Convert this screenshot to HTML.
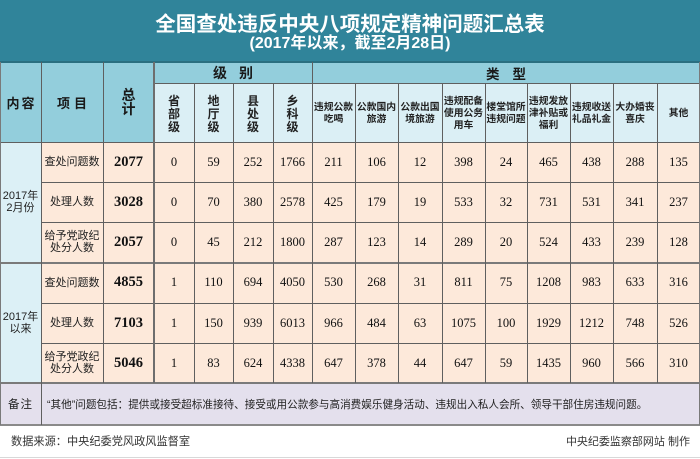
<!DOCTYPE html>
<html><head><meta charset="utf-8">
<style>
*{margin:0;padding:0;box-sizing:border-box}
body{width:700px;height:459px;position:relative;background:#fff;overflow:hidden;font-family:"Liberation Sans","Noto Sans CJK SC",sans-serif;color:#222}
.b{position:absolute}
.c{position:absolute;display:flex;align-items:center;justify-content:center;text-align:center}
.v{position:absolute;width:1px;background:#5f5f5f}
.h{position:absolute;height:1px;background:#5f5f5f}
.n{font-family:"Liberation Serif","Noto Serif CJK SC",serif;font-size:12.5px;color:#111}
.t{font-family:"Liberation Serif","Noto Serif CJK SC",serif;font-size:14.5px;font-weight:bold;color:#111}
.it{font-size:11px;line-height:12px;color:#222}
.hd{font-weight:bold;color:#1a1a1a}
.vt{font-size:12px;line-height:13px;font-weight:bold;color:#222}
.ty{font-size:9.8px;line-height:12px;font-weight:bold;color:#222;padding-top:2px;white-space:nowrap}
</style></head>
<body>
<!-- title band -->
<div class="b" style="left:0;top:0;width:700px;height:62px;background:#30849a"></div>
<div class="c" style="left:0;top:10px;width:700px;height:24px;color:#fff;font-size:20.5px;font-weight:bold;font-family:'Liberation Sans','Noto Sans CJK SC',sans-serif">全国查处违反中央八项规定精神问题汇总表</div>
<div class="c" style="left:0;top:32px;width:700px;height:18px;color:#fff;font-size:16px;font-weight:bold;font-family:'Liberation Sans','Noto Sans CJK SC',sans-serif">(2017年以来，截至2月28日)</div>

<!-- header backgrounds -->
<div class="b" style="left:0;top:62px;width:154px;height:80px;background:#93cedc"></div>
<div class="b" style="left:154px;top:62px;width:546px;height:21px;background:#93cedc"></div>
<div class="b" style="left:154px;top:83px;width:546px;height:59px;background:#dbeff5"></div>

<!-- body backgrounds -->
<div class="b" style="left:0;top:142px;width:41px;height:241px;background:#dcf0f6"></div>
<div class="b" style="left:41px;top:142px;width:659px;height:241px;background:#fde9da"></div>
<div class="b" style="left:0;top:383px;width:700px;height:42px;background:#e4e0ed"></div>

<!-- header text -->
<div class="c hd" style="left:0;top:62px;width:41px;height:80px;font-size:13px;letter-spacing:2px;padding-left:2px">内容</div>
<div class="c hd" style="left:41px;top:62px;width:62px;height:80px;font-size:13px;letter-spacing:4px;padding-left:4px">项目</div>
<div class="c hd" style="left:103px;top:62px;width:51px;height:80px;font-size:14px;line-height:14px">总<br>计</div>
<div class="c hd" style="left:154px;top:62px;width:158px;height:21px;font-size:14px;letter-spacing:12px;padding-left:12px">级别</div>
<div class="c hd" style="left:312px;top:62px;width:388px;height:21px;font-size:13.5px;letter-spacing:13px;padding-left:13px">类型</div>

<div class="c vt" style="left:154px;top:83px;width:40px;height:59px;padding-top:4px">省<br>部<br>级</div>
<div class="c vt" style="left:194px;top:83px;width:39px;height:59px;padding-top:4px">地<br>厅<br>级</div>
<div class="c vt" style="left:233px;top:83px;width:40px;height:59px;padding-top:4px">县<br>处<br>级</div>
<div class="c vt" style="left:273px;top:83px;width:39px;height:59px;padding-top:4px">乡<br>科<br>级</div>

<div class="c ty" style="left:312px;top:83px;width:43px;height:59px">违规公款<br>吃喝</div>
<div class="c ty" style="left:355px;top:83px;width:43px;height:59px">公款国内<br>旅游</div>
<div class="c ty" style="left:398px;top:83px;width:44px;height:59px">公款出国<br>境旅游</div>
<div class="c ty" style="left:442px;top:83px;width:43px;height:59px">违规配备<br>使用公务<br>用车</div>
<div class="c ty" style="left:485px;top:83px;width:42px;height:59px">楼堂馆所<br>违规问题</div>
<div class="c ty" style="left:527px;top:83px;width:43px;height:59px">违规发放<br>津补贴或<br>福利</div>
<div class="c ty" style="left:570px;top:83px;width:43px;height:59px">违规收送<br>礼品礼金</div>
<div class="c ty" style="left:613px;top:83px;width:44px;height:59px">大办婚丧<br>喜庆</div>
<div class="c ty" style="left:657px;top:83px;width:43px;height:59px">其他</div>

<!-- first col -->
<div class="c" style="left:0;top:142px;width:41px;height:120px;font-size:11px;line-height:12px;color:#222">2017年<br>2月份</div>
<div class="c" style="left:0;top:262px;width:41px;height:121px;font-size:11px;line-height:12px;color:#222">2017年<br>以来</div>

<!-- item col -->
<div class="c it" style="left:41px;top:142px;width:62px;height:40px">查处问题数</div>
<div class="c it" style="left:41px;top:182px;width:62px;height:40px">处理人数</div>
<div class="c it" style="left:41px;top:222px;width:62px;height:40px">给予党政纪<br>处分人数</div>
<div class="c it" style="left:41px;top:262px;width:62px;height:41px">查处问题数</div>
<div class="c it" style="left:41px;top:303px;width:62px;height:40px">处理人数</div>
<div class="c it" style="left:41px;top:343px;width:62px;height:40px">给予党政纪<br>处分人数</div>

<!-- totals -->
<div class="c t" style="left:103px;top:142px;width:51px;height:40px">2077</div>
<div class="c t" style="left:103px;top:182px;width:51px;height:40px">3028</div>
<div class="c t" style="left:103px;top:222px;width:51px;height:40px">2057</div>
<div class="c t" style="left:103px;top:262px;width:51px;height:41px">4855</div>
<div class="c t" style="left:103px;top:303px;width:51px;height:40px">7103</div>
<div class="c t" style="left:103px;top:343px;width:51px;height:40px">5046</div>

<!-- row 1 -->
<div class="c n" style="left:154px;top:142px;width:40px;height:40px">0</div>
<div class="c n" style="left:194px;top:142px;width:39px;height:40px">59</div>
<div class="c n" style="left:233px;top:142px;width:40px;height:40px">252</div>
<div class="c n" style="left:273px;top:142px;width:39px;height:40px">1766</div>
<div class="c n" style="left:312px;top:142px;width:43px;height:40px">211</div>
<div class="c n" style="left:355px;top:142px;width:43px;height:40px">106</div>
<div class="c n" style="left:398px;top:142px;width:44px;height:40px">12</div>
<div class="c n" style="left:442px;top:142px;width:43px;height:40px">398</div>
<div class="c n" style="left:485px;top:142px;width:42px;height:40px">24</div>
<div class="c n" style="left:527px;top:142px;width:43px;height:40px">465</div>
<div class="c n" style="left:570px;top:142px;width:43px;height:40px">438</div>
<div class="c n" style="left:613px;top:142px;width:44px;height:40px">288</div>
<div class="c n" style="left:657px;top:142px;width:43px;height:40px">135</div>
<!-- row 2 -->
<div class="c n" style="left:154px;top:182px;width:40px;height:40px">0</div>
<div class="c n" style="left:194px;top:182px;width:39px;height:40px">70</div>
<div class="c n" style="left:233px;top:182px;width:40px;height:40px">380</div>
<div class="c n" style="left:273px;top:182px;width:39px;height:40px">2578</div>
<div class="c n" style="left:312px;top:182px;width:43px;height:40px">425</div>
<div class="c n" style="left:355px;top:182px;width:43px;height:40px">179</div>
<div class="c n" style="left:398px;top:182px;width:44px;height:40px">19</div>
<div class="c n" style="left:442px;top:182px;width:43px;height:40px">533</div>
<div class="c n" style="left:485px;top:182px;width:42px;height:40px">32</div>
<div class="c n" style="left:527px;top:182px;width:43px;height:40px">731</div>
<div class="c n" style="left:570px;top:182px;width:43px;height:40px">531</div>
<div class="c n" style="left:613px;top:182px;width:44px;height:40px">341</div>
<div class="c n" style="left:657px;top:182px;width:43px;height:40px">237</div>
<!-- row 3 -->
<div class="c n" style="left:154px;top:222px;width:40px;height:40px">0</div>
<div class="c n" style="left:194px;top:222px;width:39px;height:40px">45</div>
<div class="c n" style="left:233px;top:222px;width:40px;height:40px">212</div>
<div class="c n" style="left:273px;top:222px;width:39px;height:40px">1800</div>
<div class="c n" style="left:312px;top:222px;width:43px;height:40px">287</div>
<div class="c n" style="left:355px;top:222px;width:43px;height:40px">123</div>
<div class="c n" style="left:398px;top:222px;width:44px;height:40px">14</div>
<div class="c n" style="left:442px;top:222px;width:43px;height:40px">289</div>
<div class="c n" style="left:485px;top:222px;width:42px;height:40px">20</div>
<div class="c n" style="left:527px;top:222px;width:43px;height:40px">524</div>
<div class="c n" style="left:570px;top:222px;width:43px;height:40px">433</div>
<div class="c n" style="left:613px;top:222px;width:44px;height:40px">239</div>
<div class="c n" style="left:657px;top:222px;width:43px;height:40px">128</div>
<!-- row 4 -->
<div class="c n" style="left:154px;top:262px;width:40px;height:41px">1</div>
<div class="c n" style="left:194px;top:262px;width:39px;height:41px">110</div>
<div class="c n" style="left:233px;top:262px;width:40px;height:41px">694</div>
<div class="c n" style="left:273px;top:262px;width:39px;height:41px">4050</div>
<div class="c n" style="left:312px;top:262px;width:43px;height:41px">530</div>
<div class="c n" style="left:355px;top:262px;width:43px;height:41px">268</div>
<div class="c n" style="left:398px;top:262px;width:44px;height:41px">31</div>
<div class="c n" style="left:442px;top:262px;width:43px;height:41px">811</div>
<div class="c n" style="left:485px;top:262px;width:42px;height:41px">75</div>
<div class="c n" style="left:527px;top:262px;width:43px;height:41px">1208</div>
<div class="c n" style="left:570px;top:262px;width:43px;height:41px">983</div>
<div class="c n" style="left:613px;top:262px;width:44px;height:41px">633</div>
<div class="c n" style="left:657px;top:262px;width:43px;height:41px">316</div>
<!-- row 5 -->
<div class="c n" style="left:154px;top:303px;width:40px;height:40px">1</div>
<div class="c n" style="left:194px;top:303px;width:39px;height:40px">150</div>
<div class="c n" style="left:233px;top:303px;width:40px;height:40px">939</div>
<div class="c n" style="left:273px;top:303px;width:39px;height:40px">6013</div>
<div class="c n" style="left:312px;top:303px;width:43px;height:40px">966</div>
<div class="c n" style="left:355px;top:303px;width:43px;height:40px">484</div>
<div class="c n" style="left:398px;top:303px;width:44px;height:40px">63</div>
<div class="c n" style="left:442px;top:303px;width:43px;height:40px">1075</div>
<div class="c n" style="left:485px;top:303px;width:42px;height:40px">100</div>
<div class="c n" style="left:527px;top:303px;width:43px;height:40px">1929</div>
<div class="c n" style="left:570px;top:303px;width:43px;height:40px">1212</div>
<div class="c n" style="left:613px;top:303px;width:44px;height:40px">748</div>
<div class="c n" style="left:657px;top:303px;width:43px;height:40px">526</div>
<!-- row 6 -->
<div class="c n" style="left:154px;top:343px;width:40px;height:40px">1</div>
<div class="c n" style="left:194px;top:343px;width:39px;height:40px">83</div>
<div class="c n" style="left:233px;top:343px;width:40px;height:40px">624</div>
<div class="c n" style="left:273px;top:343px;width:39px;height:40px">4338</div>
<div class="c n" style="left:312px;top:343px;width:43px;height:40px">647</div>
<div class="c n" style="left:355px;top:343px;width:43px;height:40px">378</div>
<div class="c n" style="left:398px;top:343px;width:44px;height:40px">44</div>
<div class="c n" style="left:442px;top:343px;width:43px;height:40px">647</div>
<div class="c n" style="left:485px;top:343px;width:42px;height:40px">59</div>
<div class="c n" style="left:527px;top:343px;width:43px;height:40px">1435</div>
<div class="c n" style="left:570px;top:343px;width:43px;height:40px">960</div>
<div class="c n" style="left:613px;top:343px;width:44px;height:40px">566</div>
<div class="c n" style="left:657px;top:343px;width:43px;height:40px">310</div>

<!-- remarks -->
<div class="c" style="left:0;top:383px;width:41px;height:42px;font-size:11.5px;letter-spacing:1px;color:#222">备注</div>
<div class="b" style="left:47px;top:383px;width:650px;height:42px;display:flex;align-items:center;font-size:10.6px;color:#222;white-space:nowrap">“其他”问题包括：提供或接受超标准接待、接受或用公款参与高消费娱乐健身活动、违规出入私人会所、领导干部住房违规问题。</div>

<!-- footer -->
<div class="b" style="left:11px;top:434px;height:16px;font-size:11.2px;line-height:16px;color:#333;white-space:nowrap">数据来源：中央纪委党风政风监督室</div>
<div class="b" style="left:560px;top:434px;width:130px;height:16px;font-size:11px;line-height:16px;color:#333;white-space:nowrap;text-align:right">中央纪委监察部网站&nbsp;制作</div>

<!-- grid lines -->
<div class="h" style="left:0;top:61px;width:700px;height:2px;background:#2a6f80"></div>
<div class="h" style="left:154px;top:83px;width:546px"></div>
<div class="h" style="left:0;top:142px;width:700px"></div>
<div class="h" style="left:41px;top:182px;width:659px"></div>
<div class="h" style="left:41px;top:222px;width:659px"></div>
<div class="h" style="left:0;top:262px;width:700px;height:2px;background:#7a7a7a"></div>
<div class="h" style="left:41px;top:303px;width:659px"></div>
<div class="h" style="left:41px;top:343px;width:659px"></div>
<div class="h" style="left:0;top:382px;width:700px;height:2px;background:#7a7a7a"></div>
<div class="h" style="left:0;top:424px;width:700px;height:2px;background:#8a8a8a"></div>
<div class="h" style="left:0;top:457px;width:700px;background:#d8d8d8"></div>

<div class="v" style="left:0;top:62px;height:363px;background:#7a7a7a"></div>
<div class="v" style="left:699px;top:62px;height:363px;background:#7a7a7a"></div>
<div class="v" style="left:41px;top:62px;height:363px"></div>
<div class="v" style="left:103px;top:62px;height:321px"></div>
<div class="v" style="left:153px;top:62px;height:321px;width:2px;background:#6e6e6e"></div>
<div class="v" style="left:194px;top:83px;height:300px"></div>
<div class="v" style="left:233px;top:83px;height:300px"></div>
<div class="v" style="left:273px;top:83px;height:300px"></div>
<div class="v" style="left:312px;top:62px;height:321px"></div>
<div class="v" style="left:355px;top:83px;height:300px"></div>
<div class="v" style="left:398px;top:83px;height:300px"></div>
<div class="v" style="left:442px;top:83px;height:300px"></div>
<div class="v" style="left:485px;top:83px;height:300px"></div>
<div class="v" style="left:527px;top:83px;height:300px"></div>
<div class="v" style="left:570px;top:83px;height:300px"></div>
<div class="v" style="left:613px;top:83px;height:300px"></div>
<div class="v" style="left:657px;top:83px;height:300px"></div>
</body></html>
